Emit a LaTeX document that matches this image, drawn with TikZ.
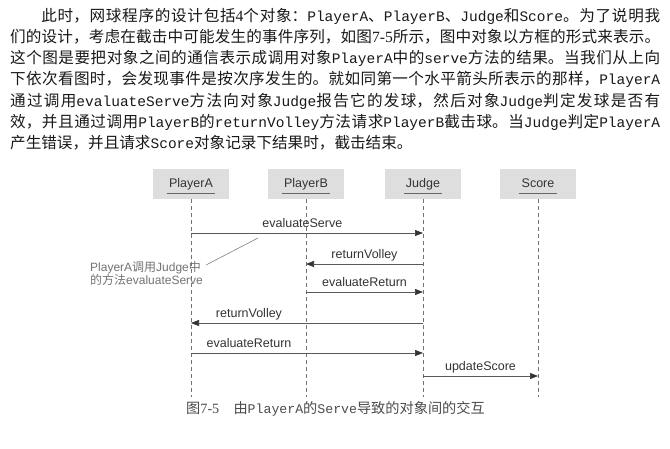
\documentclass[tikz,border=0pt]{standalone}
\usepackage{fontspec}
\setmainfont{Liberation Serif}
\setsansfont{Liberation Sans}
\setmonofont{Liberation Mono}[Scale=0.93]
\newfontfamily\cjk{Noto Sans CJK SC}
\usetikzlibrary{arrows.meta,calc}
\XeTeXlinebreaklocale "zh"
\XeTeXlinebreakskip=0pt plus 3pt
\newcommand{\code}[1]{\texttt{#1}}
\newcommand{\lat}[1]{\textrm{#1}}

\begin{document}
\begin{tikzpicture}[x=1pt,y=-1pt]
\tikzstyle{para}=[anchor=north west,inner sep=0pt,text width=650pt,align=justify,text=black!90,font=\cjk\fontsize{15.6}{21.2}\selectfont]
\tikzstyle{objbox}=[fill=black!13,minimum width=76pt,minimum height=30pt,inner sep=0pt]
\tikzstyle{objname}=[inner xsep=2pt,inner ysep=3pt,text height=9pt,text depth=3pt,text=black!80,font=\sffamily\fontsize{12.5}{14}\selectfont]
\tikzstyle{lifeline}=[draw=black!55,line width=0.6pt,dash pattern=on 4pt off 3pt]
\tikzstyle{msg}=[draw=black!65,line width=0.7pt,-{Triangle[length=8pt,width=6pt,color=black!80]}]
\tikzstyle{msglabel}=[above=4.5pt,inner sep=1pt,text depth=0pt,text=black!80,font=\sffamily\fontsize{12.5}{14}\selectfont]
\tikzstyle{note}=[anchor=west,align=left,inner sep=0pt,text=black!55,font=\sffamily\fontsize{12}{12.5}\selectfont]
\tikzstyle{caption}=[anchor=west,inner sep=0pt,text=black!70,font=\cjk\fontsize{14.2}{16}\selectfont]

\path[use as bounding box,fill=white] (0,0) rectangle (670,448);

% text above the figure
\node[para] (txt) at (10,8) {\hspace*{2em}此时，网球程序的设计包括\lat{4}个对象：\code{PlayerA}、\code{PlayerB}、\code{Judge}和\code{Score}。为了说明我\linebreak
们的设计，考虑在截击中可能发生的事件序列，如图\lat{7-5}所示，图中对象以方框的形式来表示。\linebreak
这个图是要把对象之间的通信表示成调用对象\code{PlayerA}中的\code{serve}方法的结果。当我们从上向\linebreak
下依次看图时，会发现事件是按次序发生的。就如同第一个水平箭头所表示的那样，\code{PlayerA}\linebreak
通过调用\code{evaluateServe}方法向对象\code{Judge}报告它的发球，然后对象\code{Judge}判定发球是否有\linebreak
效，并且通过调用\code{PlayerB}的\code{returnVolley}方法请求\code{PlayerB}截击球。当\code{Judge}判定\code{PlayerA}\linebreak
产生错误，并且请求\code{Score}对象记录下结果时，截击结束。};

% objects and lifelines
\foreach \n/\x/\t in {pa/191/PlayerA,pb/306/PlayerB,ju/423/Judge,sc/538/Score}{
  \node[objbox] (\n) at (\x,184) {};
  \node[objname] (\n-t) at (\n) {\t};
  \draw[black!60,line width=0.7pt] (\n-t.south west) -- (\n-t.south east);
  \coordinate (\n-end) at (\x,397);
  \draw[lifeline] (\n.south) -- (\n-end);
}

% messages
\coordinate (m1) at (0,233);
\coordinate (m2) at (0,264);
\coordinate (m3) at (0,292);
\coordinate (m4) at (0,323);
\coordinate (m5) at (0,353);
\coordinate (m6) at (0,376);
\draw[msg] (pa |- m1) -- (ju |- m1) node[msglabel,pos=0.48] {evaluateServe};
\draw[msg] (ju |- m2) -- (pb |- m2) node[msglabel,midway] {returnVolley};
\draw[msg] (pb |- m3) -- (ju |- m3) node[msglabel,midway] {evaluateReturn};
\draw[msg] (ju |- m4) -- (pa |- m4) node[msglabel,pos=0.75] {returnVolley};
\draw[msg] (pa |- m5) -- (ju |- m5) node[msglabel,pos=0.25] {evaluateReturn};
\draw[msg] (ju |- m6) -- (sc |- m6) node[msglabel,midway] {updateScore};

% note
\node[note] (note) at (90,273.5) {PlayerA{\cjk 调用}Judge{\cjk 中}\\{\cjk 的方法}evaluateServe};
\coordinate (tip) at (258,238);
\draw[black!50,line width=0.6pt] ($(note.north east)+(3,4)$) -- (tip);

% caption
\node[caption] (cap) at (186,409) {图\lat{7-5}\hspace{1em}由\code{PlayerA}的\code{Serve}导致的对象间的交互};
\end{tikzpicture}
\end{document}
